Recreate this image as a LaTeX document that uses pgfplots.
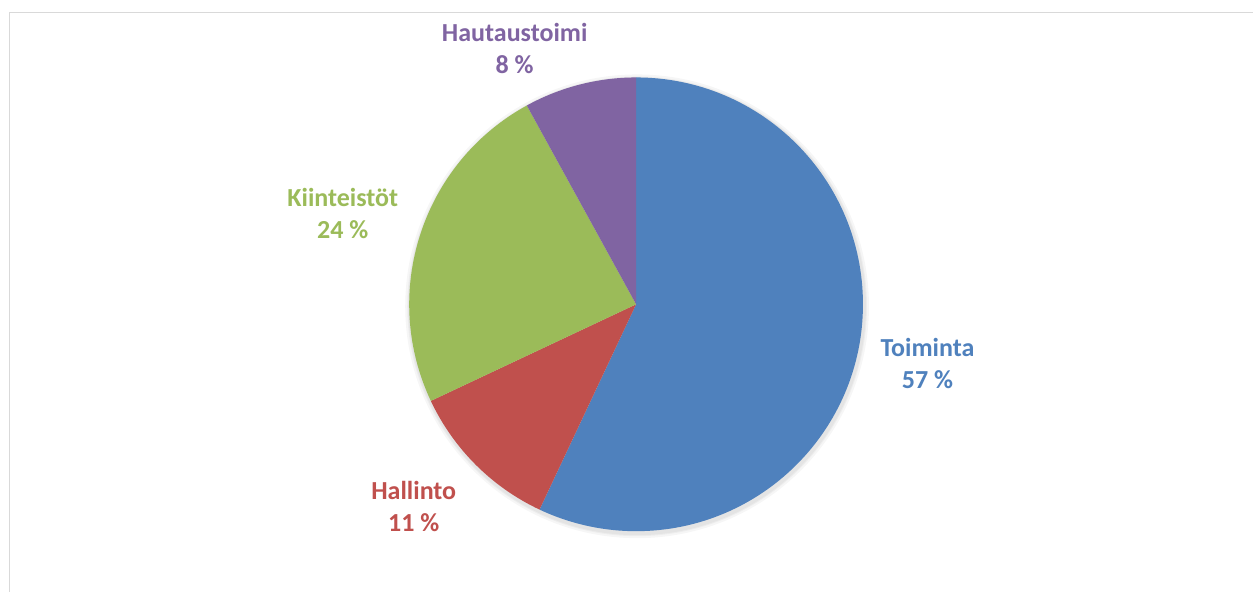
\documentclass[border=0pt]{standalone}
\usepackage{fontspec}
\setmainfont{Carlito}
\usepackage{pgfplots}
\usepackage{pgfplotstable}
\pgfplotsset{compat=1.18}

\definecolor{pieblue}{HTML}{4F81BD}
\definecolor{piered}{HTML}{C0504D}
\definecolor{piegreen}{HTML}{9BBB59}
\definecolor{piepurple}{HTML}{8064A2}
\definecolor{frame}{HTML}{D9D9D9}

% share (%), slice colour, label position (px, first baseline)
\pgfplotstableread[col sep=comma]{
label,value,color,lx,ly
Toiminta,57,pieblue,928,357
Hallinto,11,piered,414,500
Kiinteistöt,24,piegreen,343,207
Hautaustoimi,8,piepurple,515,41.5
}\piedata

\begin{document}
\begin{tikzpicture}
\begin{axis}[
    hide axis,
    x=0.5bp, y=0.5bp,
    xmin=0, xmax=1254,
    ymin=0, ymax=592,
    y dir=reverse,
    clip=false,
  ]
\addplot[draw=none, fill=white] coordinates {(0,0) (1254,0) (1254,592) (0,592)} -- cycle;
\draw[frame, line width=0.8bp] (axis cs:9.5,592) -- (axis cs:9.5,12.5) -- (axis cs:1254,12.5);
\pgfplotsextra{
  % soft shadow under the pie
  \foreach \r in {116,115,114.5}{
    \fill[black, opacity=0.035] (axis cs:637.5,306.5) circle[radius=\r bp];
  }
  \gdef\angA{90}
  \pgfplotstablegetrowsof{\piedata}
  \pgfmathtruncatemacro\lastrow{\pgfplotsretval-1}
  \foreach \i in {0,...,\lastrow}{
    \pgfplotstablegetelem{\i}{value}\of\piedata \let\sliceval\pgfplotsretval
    \pgfplotstablegetelem{\i}{color}\of\piedata \let\slicecol\pgfplotsretval
    \pgfplotstablegetelem{\i}{label}\of\piedata \let\slicelab\pgfplotsretval
    \pgfplotstablegetelem{\i}{lx}\of\piedata \let\labx\pgfplotsretval
    \pgfplotstablegetelem{\i}{ly}\of\piedata \let\laby\pgfplotsretval
    \pgfmathsetmacro\angB{\angA-3.6*\sliceval}
    \pgfmathsetmacro\labyb{\laby+31.6}
    \fill[fill=\slicecol] (axis cs:636.5,304.5) -- ++(\angA:113.5bp)
      arc[start angle=\angA, end angle=\angB, radius=113.5bp] -- cycle;
    \node[anchor=base, inner sep=0pt, text=\slicecol,
          font=\fontsize{13bp}{15.8bp}\selectfont\bfseries]
      at (axis cs:\labx,\laby) {\slicelab};
    \node[anchor=base, inner sep=0pt, text=\slicecol,
          font=\fontsize{13bp}{15.8bp}\selectfont\bfseries]
      at (axis cs:\labx,\labyb) {\sliceval~\%};
    \global\let\angA\angB
  }
}
\end{axis}
\end{tikzpicture}
\end{document}
